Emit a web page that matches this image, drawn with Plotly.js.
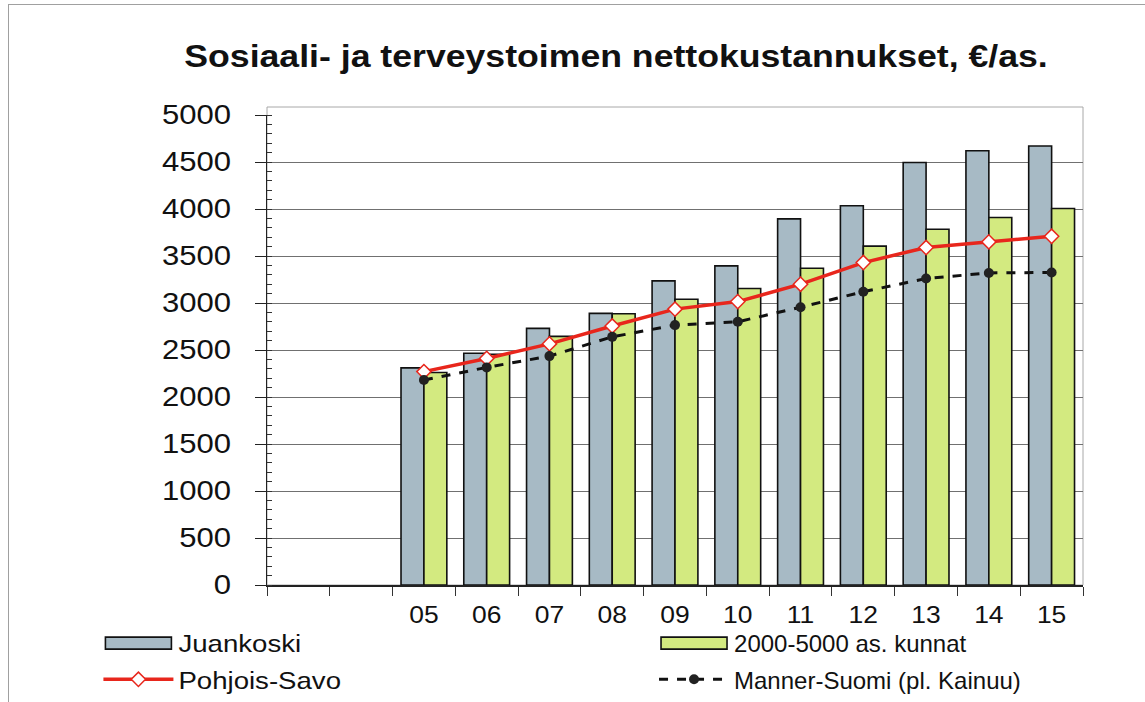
<!DOCTYPE html>
<html><head><meta charset="utf-8">
<script src="https://cdn.plot.ly/plotly-3.0.1.min.js"></script>
<style>
html,body{margin:0;padding:0;background:#fff;}
#frame{position:absolute;left:8px;top:4px;width:1137px;height:698px;border-top:1px solid #a0a0a0;border-left:1px solid #a0a0a0;pointer-events:none;z-index:5;}
#chart{position:absolute;left:0;top:0;width:1145px;height:702px;}
</style></head>
<body>
<div id="chart"></div>
<div id="frame"></div>
<script>
const categories = ["03","04","05","06","07","08","09","10","11","12","13","14","15"];
const tickLabels = ["","","05","06","07","08","09","10","11","12","13","14","15"];
const juankoski = [null,null,2310,2465,2730,2890,3235,3395,3895,4035,4495,4620,4670];
const kunnat2000_5000 = [null,null,2260,2455,2645,2885,3040,3155,3370,3605,3785,3910,4005];
const pohjoisSavo = [null,null,2270,2410,2565,2755,2935,3015,3200,3430,3590,3650,3710];
const mannerSuomi = [null,null,2180,2315,2435,2640,2765,2800,2955,3120,3260,3320,3325];

const traces = [
  {type:'bar', name:'Juankoski', x:categories, y:juankoski,
   marker:{color:'#a7bac5', line:{color:'#111', width:1.6}}, legend:'legend', legendgroup:'a'},
  {type:'bar', name:'2000-5000 as. kunnat', x:categories, y:kunnat2000_5000,
   marker:{color:'#d3ea80', line:{color:'#111', width:1.6}}, legend:'legend2', legendgroup:'b'},
  {type:'scatter', mode:'lines+markers', name:'Pohjois-Savo', x:categories, y:pohjoisSavo,
   line:{color:'#e8261c', width:3.5},
   marker:{symbol:'diamond', size:11, color:'#ffffff', line:{color:'#e8261c', width:1.5}},
   legend:'legend', legendgroup:'c'},
  {type:'scatter', mode:'lines+markers', name:'Manner-Suomi (pl. Kainuu)', x:categories, y:mannerSuomi,
   line:{color:'#111', width:3, dash:'dash'},
   marker:{symbol:'circle', size:10, color:'#222'}, legend:'legend2', legendgroup:'d'}
];

const FONT = 'Liberation Sans, Arial, sans-serif';
const legendFont = {family:FONT, size:24, color:'#111'};
const layout = {
  width:1145, height:702,
  margin:{l:267, r:62, t:115, b:117, autoexpand:false},
  paper_bgcolor:'rgba(0,0,0,0)', plot_bgcolor:'#fff',
  font:{family:FONT, color:'#111'},
  title:{text:'<b>Sosiaali- ja terveystoimen nettokustannukset, €/as.</b>',
         font:{size:31, color:'#111'}, x:0.538, xanchor:'center', y:0.92, yanchor:'middle', yref:'container'},
  barmode:'group', bargap:0.27, bargroupgap:0,
  xaxis:{type:'category', categoryorder:'array', categoryarray:categories,
         tickmode:'array', tickvals:categories, ticktext:tickLabels,
         tickson:'boundaries', ticks:'outside', ticklen:9, tickcolor:'#333',
         showline:true, linecolor:'#222', linewidth:1.5,
         showgrid:false, tickfont:{size:23, color:'#111'}, ticklabelstandoff:9,
         range:[-0.5,12.5], fixedrange:true},
  yaxis:{range:[0,5000], dtick:500, tick0:0, ticks:'outside', ticklen:11, tickcolor:'#222',
         showline:true, linecolor:'#222', linewidth:1.5,
         showgrid:true, gridcolor:'#707070', gridwidth:1, zeroline:false,
         tickfont:{size:27, color:'#111'}, ticklabelstandoff:18,
         minor:{dtick:100, ticks:'inside', ticklen:5, tickcolor:'#333', showgrid:false}},
  shapes:[{type:'rect', xref:'paper', yref:'paper', x0:0, x1:1, y0:0, y1:1.017,
           line:{color:'#a8a8a8', width:1}, layer:'below'}],
  showlegend:true,
  legend:{x:-0.2066, xanchor:'left', y:0, yref:'container', yanchor:'bottom', orientation:'v',
          font:legendFont, bgcolor:'rgba(0,0,0,0)', tracegroupgap:2, itemwidth:70, traceorder:'grouped'},
  legend2:{x:0.4743, xanchor:'left', y:0, yref:'container', yanchor:'bottom', orientation:'v',
          font:legendFont, bgcolor:'rgba(0,0,0,0)', tracegroupgap:2, itemwidth:70, traceorder:'grouped'}
};

Plotly.newPlot('chart', traces, layout, {displayModeBar:false, staticPlot:true}).then(function(gd){
  // long rectangular bar swatches, as in the reference legend
  gd.querySelectorAll('.legendpoints path').forEach(function(p){
    var d = p.getAttribute('d') || '';
    if (d.replace(/\s/g,'') === 'M6,6H-6V-6H6Z') p.setAttribute('d','M33,6H-33V-6H33Z');
  });
  // let the (stretched) legend texts show fully
  gd.querySelectorAll('.legend [clip-path], .legend2 [clip-path], g[class^="legend"] [clip-path]').forEach(function(e){
    e.removeAttribute('clip-path');
  });
  // the reference's lettering is horizontally stretched; mimic it
  var S = 1.15;
  gd.querySelectorAll('.gtitle, .xtick text, .ytick text, .legendtext').forEach(function(t){
    var ax = parseFloat(t.getAttribute('x') || '0');
    var tr = t.getAttribute('transform') || '';
    t.setAttribute('transform', tr + ' translate(' + ax + ',0) scale(' + S + ',1) translate(' + (-ax) + ',0)');
  });
});
</script>
</body></html>
